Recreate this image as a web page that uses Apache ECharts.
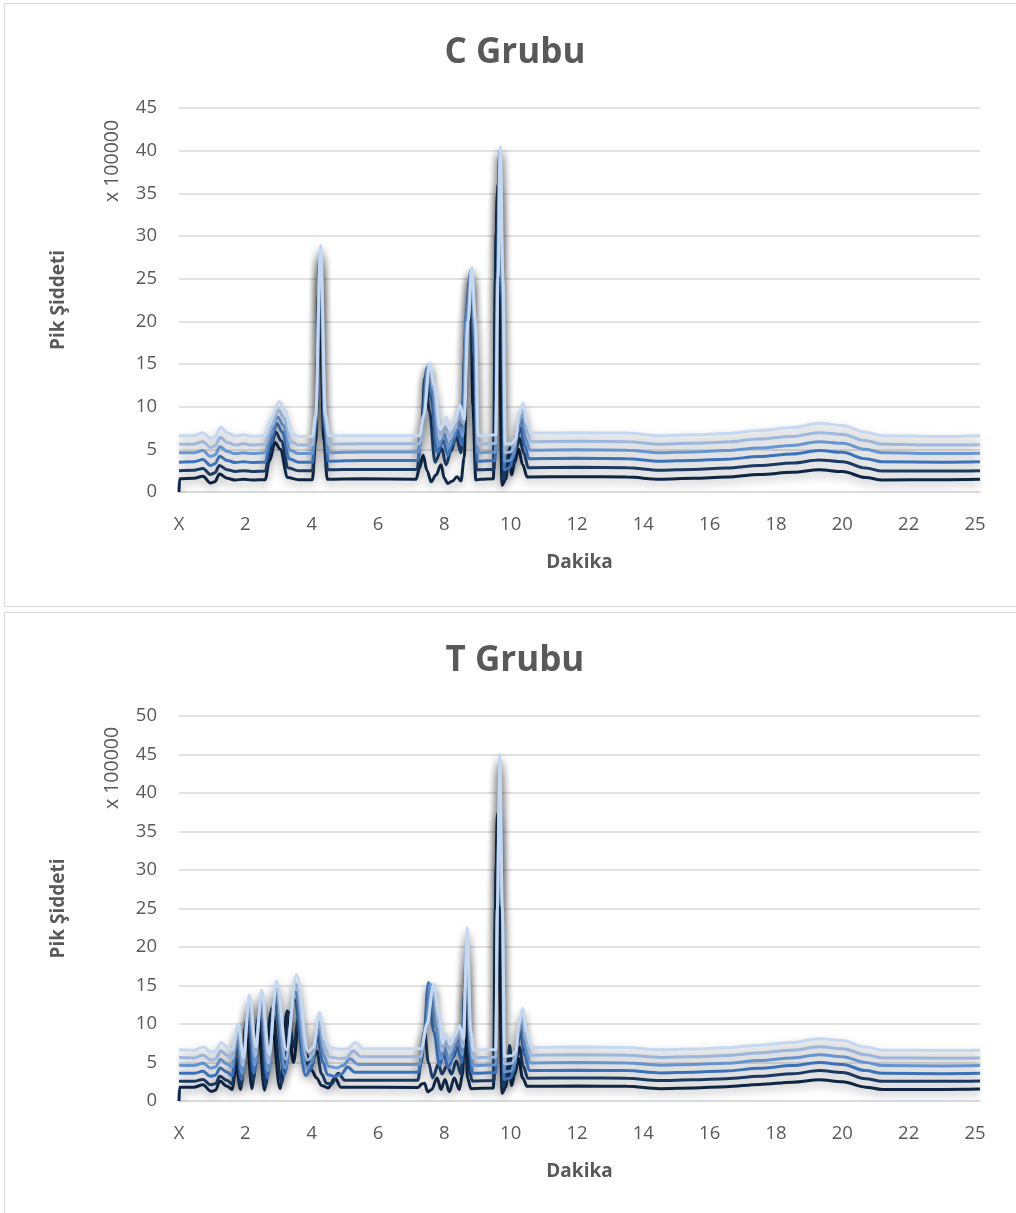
<!DOCTYPE html>
<html>
<head>
<meta charset="utf-8">
<script src="https://cdn.jsdelivr.net/npm/echarts@6/dist/echarts.min.js"></script>
<style>
html,body{margin:0;padding:0;background:#fff;}
#chart{width:1016px;height:1213px;}
</style>
</head>
<body>
<div id="chart"></div>
<script>
// ---- Data (retention time in minutes, intensity x 100000) ----
const xTickLabels = ['X','2','4','6','8','10','12','14','16','18','20','22','25'];
const titleC = 'C Grubu';
const titleT = 'T Grubu';
const xName = 'Dakika';
const yName = 'Pik Şiddeti';
const unitLabel = 'x 100000';
const yMaxC = 45;
const yMaxT = 50;
const xMax = 24.15;

const C1 = [[0,0],[0.02,1.55],[0.45,1.6],[0.72,1.85],[0.95,1.05],[1.08,1.2],[1.22,2.1],[1.45,1.6],[1.7,1.4],[1.95,1.5],[2.2,1.4],[2.6,1.45],[2.72,3.6],[2.9,5.8],[3.05,5],[3.28,1.7],[3.6,1.45],[4.02,1.45],[4.12,6],[4.23,26],[4.37,6],[4.47,1.5],[5.5,1.55],[7.15,1.5],[7.25,2.8],[7.36,4.3],[7.48,2.5],[7.6,1.2],[7.75,2.0],[7.9,3.2],[8.0,1.6],[8.1,1.0],[8.25,1.3],[8.38,1.8],[8.5,1.3],[8.6,4],[8.7,22],[8.8,24],[8.86,10],[8.95,1.4],[9.1,1.5],[9.48,1.55],[9.54,25],[9.6,35],[9.66,18],[9.74,0.8],[9.85,1.5],[9.95,4.8],[10.03,2],[10.12,3.5],[10.24,5],[10.36,3.2],[10.5,1.75],[12,1.8],[13.5,1.75],[14.5,1.5],[15.5,1.6],[16.5,1.75],[17.5,2.05],[18.5,2.3],[19.3,2.6],[20,2.4],[20.7,1.7],[21.2,1.4],[23,1.45],[24.15,1.5]];
const C2 = [[0,2.5],[0.45,2.55],[0.72,2.75],[0.95,2.05],[1.08,2.25],[1.22,3.1],[1.45,2.6],[1.7,2.4],[1.95,2.5],[2.2,2.4],[2.6,2.45],[2.73,4.6],[2.92,7],[3.08,6],[3.3,2.8],[3.6,2.5],[4.02,2.5],[4.12,7],[4.24,27],[4.38,7],[4.48,2.6],[5.5,2.65],[7.18,2.65],[7.3,7],[7.42,13.5],[7.55,9.5],[7.72,3.5],[7.92,5.1],[8.05,3.2],[8.2,4.8],[8.36,6.5],[8.5,4.6],[8.64,18],[8.77,25],[8.88,14],[8.97,2.6],[9.1,2.6],[9.5,2.65],[9.56,30],[9.62,36],[9.7,20],[9.78,1.5],[9.9,3],[9.98,5.2],[10.06,3],[10.15,5],[10.27,6.3],[10.4,4.5],[10.53,2.85],[12,2.9],[13.5,2.85],[14.5,2.55],[15.5,2.65],[16.5,2.8],[17.5,3.1],[18.5,3.4],[19.3,3.75],[20,3.55],[20.7,2.8],[21.2,2.45],[23,2.45],[24.15,2.5]];
const C3 = [[0,3.5],[0.45,3.55],[0.72,3.8],[0.95,3.1],[1.08,3.3],[1.23,4.2],[1.45,3.7],[1.7,3.45],[1.95,3.55],[2.2,3.45],[2.6,3.5],[2.75,5.6],[2.95,8],[3.12,7],[3.32,3.9],[3.6,3.5],[4.02,3.5],[4.12,7.5],[4.25,27.5],[4.39,7.5],[4.5,3.6],[5.5,3.7],[7.2,3.7],[7.32,7.5],[7.47,14.6],[7.6,11],[7.78,4.6],[7.97,6],[8.1,4.3],[8.25,5.6],[8.4,7.2],[8.52,5.5],[8.66,21],[8.78,25.5],[8.9,16],[8.99,3.6],[9.1,3.6],[9.53,3.7],[9.59,25],[9.66,39.5],[9.74,22],[9.81,2.6],[9.96,2.8],[10.07,4],[10.18,6.2],[10.3,7.5],[10.42,5.5],[10.55,3.9],[12,3.95],[13.5,3.9],[14.5,3.6],[15.5,3.7],[16.5,3.85],[17.5,4.15],[18.5,4.45],[19.3,4.85],[20,4.65],[20.7,3.9],[21.2,3.55],[23,3.5],[24.15,3.55]];
const C4 = [[0,4.6],[0.45,4.6],[0.72,4.85],[0.95,4.15],[1.08,4.35],[1.24,5.3],[1.45,4.75],[1.7,4.5],[1.95,4.6],[2.2,4.5],[2.6,4.6],[2.76,6.6],[2.97,8.8],[3.15,7.8],[3.34,4.9],[3.6,4.5],[4.02,4.5],[4.12,8],[4.25,28],[4.4,8],[4.5,4.6],[5.5,4.7],[7.22,4.7],[7.35,8],[7.5,14.8],[7.64,11.5],[7.82,5.4],[8.0,6.8],[8.12,5.2],[8.28,6.4],[8.43,8.2],[8.55,6.5],[8.67,21],[8.8,26],[8.92,18],[9.0,4.6],[9.1,4.6],[9.54,4.7],[9.6,25],[9.67,40],[9.75,23],[9.82,3.6],[9.98,3.7],[10.1,4.5],[10.2,7],[10.32,8.6],[10.45,6.2],[10.58,4.9],[12,4.95],[13.5,4.9],[14.5,4.6],[15.5,4.7],[16.5,4.85],[17.5,5.15],[18.5,5.45],[19.3,5.9],[20,5.7],[20.7,5.0],[21.2,4.6],[23,4.5],[24.15,4.55]];
const C5 = [[0,5.6],[0.45,5.6],[0.72,5.9],[0.95,5.2],[1.08,5.4],[1.25,6.4],[1.45,5.8],[1.7,5.5],[1.95,5.65],[2.2,5.5],[2.6,5.6],[2.78,7.6],[3.0,9.6],[3.18,8.6],[3.36,5.9],[3.6,5.5],[4.02,5.5],[4.12,8.5],[4.26,28.5],[4.41,8.5],[4.52,5.6],[5.5,5.65],[7.25,5.65],[7.38,8.5],[7.54,14.9],[7.68,12],[7.86,6.2],[8.03,7.6],[8.15,6.2],[8.3,7.2],[8.45,9.2],[8.58,8],[8.7,20],[8.82,26.2],[8.93,19],[9.01,5.6],[9.1,5.6],[9.55,5.7],[9.61,25],[9.68,40.2],[9.76,24],[9.83,4.6],[10.0,4.7],[10.12,5.4],[10.23,8],[10.35,9.6],[10.48,7.2],[10.6,5.9],[12,5.95],[13.5,5.9],[14.5,5.6],[15.5,5.7],[16.5,5.85],[17.5,6.2],[18.5,6.5],[19.3,6.95],[20,6.75],[20.7,6.0],[21.2,5.6],[23,5.5],[24.15,5.55]];
const C6 = [[0,6.6],[0.45,6.6],[0.72,6.95],[0.95,6.3],[1.08,6.45],[1.26,7.6],[1.45,6.95],[1.7,6.55],[1.95,6.7],[2.2,6.5],[2.6,6.6],[2.78,8.6],[3.02,10.6],[3.2,9.6],[3.38,6.9],[3.6,6.5],[4.02,6.5],[4.12,9],[4.27,28.9],[4.42,9],[4.52,6.6],[5.5,6.6],[7.25,6.6],[7.38,9],[7.56,15.1],[7.7,12.5],[7.88,7.3],[8.05,8.75],[8.17,7.3],[8.32,8.2],[8.47,10.2],[8.6,8.5],[8.72,20],[8.83,26.3],[8.94,20],[9.02,6.6],[9.1,6.6],[9.55,6.7],[9.62,25],[9.69,40.5],[9.77,25],[9.84,5.6],[10.05,5.7],[10.15,6.2],[10.25,9],[10.37,10.4],[10.5,8],[10.62,6.9],[12,6.95],[13.5,6.9],[14.5,6.6],[15.5,6.7],[16.5,6.85],[17.5,7.2],[18.5,7.55],[19.3,8.05],[20,7.8],[20.7,7.0],[21.2,6.6],[23,6.5],[24.15,6.6]];

const T1 = [[0,0],[0.02,1.8],[0.45,1.8],[0.72,2.1],[0.97,1.25],[1.1,1.4],[1.23,2.6],[1.45,1.9],[1.6,1.5],[1.72,4.5],[1.86,1.5],[2.02,10],[2.2,1.6],[2.38,10.5],[2.58,1.4],[2.77,11.5],[3.05,1.6],[3.26,11.7],[3.45,5],[3.62,10.6],[3.85,6],[4.0,4],[4.15,3],[4.3,2],[4.5,1.7],[4.7,3.0],[4.88,1.8],[7.2,1.75],[7.32,2.2],[7.4,2.3],[7.5,1.2],[7.62,1.5],[7.78,3],[7.9,1.5],[8.02,2.8],[8.15,1.2],[8.3,3],[8.45,1.5],[8.55,3.5],[8.62,14],[8.7,3],[8.8,1.6],[9.48,1.7],[9.54,25],[9.6,37],[9.66,18],[9.74,1.0],[9.85,1.8],[9.95,5.5],[10.03,2],[10.12,3.5],[10.24,5.5],[10.36,3],[10.5,1.9],[12,1.95],[13.5,1.9],[14.5,1.6],[15.5,1.7],[16.5,1.85],[17.5,2.15],[18.5,2.45],[19.3,2.75],[20,2.5],[20.7,1.8],[21.2,1.5],[23,1.5],[24.15,1.55]];
const T2 = [[0,2.55],[0.45,2.55],[0.72,2.8],[0.95,2.1],[1.1,2.25],[1.23,3.2],[1.45,2.65],[1.6,2.2],[1.72,5.5],[1.87,2],[2.04,10.5],[2.24,2.6],[2.41,11],[2.62,2],[2.8,12],[3.1,2.3],[3.3,11.6],[3.45,7],[3.62,11],[3.95,4],[4.15,6.5],[4.3,3.5],[4.45,2.3],[4.6,2.2],[4.8,3.6],[5.0,2.7],[7.2,2.7],[7.3,5],[7.4,9.1],[7.52,5],[7.65,3],[7.82,4.8],[7.93,3.5],[8.08,4.6],[8.22,3.5],[8.36,5.2],[8.5,3.5],[8.64,16],[8.75,4],[8.84,2.6],[9.5,2.65],[9.56,30],[9.62,37.5],[9.7,20],[9.77,1.8],[9.9,3.5],[9.97,7.2],[10.05,3.2],[10.15,5],[10.26,7],[10.38,4.5],[10.52,2.95],[12,3.0],[13.5,2.95],[14.5,2.65],[15.5,2.75],[16.5,2.9],[17.5,3.2],[18.5,3.55],[19.3,3.95],[20,3.7],[20.7,2.9],[21.2,2.55],[23,2.55],[24.15,2.6]];
const T3 = [[0,3.6],[0.45,3.6],[0.72,3.85],[0.95,3.2],[1.1,3.35],[1.24,4.3],[1.45,3.75],[1.6,3.3],[1.73,6.8],[1.89,2.8],[2.06,11.2],[2.26,3.6],[2.43,12],[2.66,3],[2.88,13],[3.18,3.4],[3.47,13.2],[3.82,3.3],[3.98,4.2],[4.17,8.3],[4.34,5],[4.48,3.4],[4.7,3.2],[4.9,3.5],[5.08,4.4],[5.3,3.75],[7.22,3.75],[7.38,8.5],[7.52,15.4],[7.68,9],[7.86,4.6],[7.97,6.2],[8.12,4.3],[8.26,5.6],[8.4,7],[8.52,5],[8.66,18],[8.77,6],[8.85,3.6],[9.55,3.7],[9.6,25],[9.66,43],[9.74,25],[9.8,2.8],[9.99,3],[10.1,4],[10.19,7],[10.3,9],[10.42,6],[10.56,3.95],[12,4.0],[13.5,3.95],[14.5,3.65],[15.5,3.75],[16.5,3.9],[17.5,4.25],[18.5,4.6],[19.3,5.0],[20,4.75],[20.7,3.95],[21.2,3.6],[23,3.55],[24.15,3.6]];
const T4 = [[0,4.65],[0.45,4.6],[0.73,4.9],[0.96,4.25],[1.1,4.4],[1.25,5.4],[1.45,4.8],[1.6,4.4],[1.75,7.8],[1.91,3.6],[2.08,12],[2.28,4.6],[2.45,12.8],[2.68,3.9],[2.9,13.8],[3.2,4.3],[3.5,14.2],[3.85,4.2],[4.0,5],[4.19,9.3],[4.36,6],[4.5,4.5],[4.75,4.3],[4.95,4.6],[5.15,5.5],[5.4,4.75],[7.25,4.75],[7.42,9],[7.58,15.2],[7.75,9.5],[7.9,5.5],[8.0,7],[8.14,5.2],[8.28,6.6],[8.42,8],[8.54,6],[8.67,20],[8.78,7],[8.86,4.6],[9.55,4.7],[9.6,25],[9.66,44],[9.74,25],[9.81,3.8],[10.01,3.9],[10.12,4.8],[10.21,8],[10.32,10],[10.44,7],[10.58,4.95],[12,5.0],[13.5,4.95],[14.5,4.65],[15.5,4.75],[16.5,4.9],[17.5,5.25],[18.5,5.6],[19.3,6.0],[20,5.75],[20.7,5.0],[21.2,4.6],[23,4.55],[24.15,4.6]];
const T5 = [[0,5.65],[0.45,5.6],[0.73,5.95],[0.96,5.3],[1.1,5.45],[1.26,6.5],[1.45,5.9],[1.6,5.5],[1.77,8.8],[1.93,4.6],[2.1,12.8],[2.3,5.8],[2.47,13.5],[2.7,4.9],[2.92,14.6],[3.22,5.4],[3.52,15.2],[3.88,5.3],[4.03,6],[4.21,10.3],[4.38,7],[4.53,5.7],[4.85,5.5],[5.05,5.6],[5.25,6.5],[5.48,5.75],[7.28,5.75],[7.46,9.5],[7.65,14.8],[7.82,10.2],[7.93,6.5],[8.03,7.8],[8.16,6.3],[8.3,7.6],[8.44,8.9],[8.56,7],[8.68,21.5],[8.79,8],[8.87,5.6],[9.55,5.7],[9.6,25],[9.67,44.5],[9.75,25],[9.82,4.8],[10.03,4.9],[10.14,5.6],[10.23,9],[10.34,11],[10.46,8],[10.6,5.95],[12,6.0],[13.5,5.95],[14.5,5.65],[15.5,5.75],[16.5,5.9],[17.5,6.25],[18.5,6.6],[19.3,7.05],[20,6.8],[20.7,6.0],[21.2,5.6],[23,5.55],[24.15,5.6]];
const T6 = [[0,6.65],[0.45,6.6],[0.74,7.0],[0.97,6.35],[1.1,6.5],[1.27,7.6],[1.45,7.0],[1.6,6.6],[1.79,9.9],[1.95,5.6],[2.12,13.8],[2.32,7.0],[2.49,14.4],[2.72,6.0],[2.94,15.6],[3.24,6.6],[3.54,16.4],[3.9,6.4],[4.05,7],[4.23,11.5],[4.4,8],[4.55,6.9],[4.9,6.7],[5.1,6.8],[5.32,7.6],[5.55,6.8],[7.3,6.8],[7.48,10],[7.68,15.2],[7.85,11],[7.95,7.5],[8.05,8.7],[8.18,7.3],[8.32,8.5],[8.46,9.8],[8.58,8],[8.69,22.5],[8.8,9],[8.88,6.6],[9.55,6.7],[9.6,25],[9.67,45],[9.75,25],[9.82,5.8],[10.05,5.9],[10.16,6.5],[10.25,10],[10.36,12],[10.48,9],[10.62,6.95],[12,7.0],[13.5,6.95],[14.5,6.65],[15.5,6.75],[16.5,6.9],[17.5,7.25],[18.5,7.6],[19.3,8.1],[20,7.85],[20.7,7.0],[21.2,6.6],[23,6.55],[24.15,6.6]];

const seriesC = [C1, C2, C3, C4, C5, C6];
const seriesT = [T1, T2, T3, T4, T5, T6];

// ---- Styles ----
const palette = ['#0f2848', '#1c3d68', '#3f79c6', '#6c9edf', '#a6c3eb', '#c5d8f1'];
const FONT = "'Open Sans', 'Noto Sans', sans-serif";
const TXT = '#595959';
const GRIDC = '#d9d9d9';

function xLabel(v) {
  const i = v / 2;
  if (Math.abs(i - Math.round(i)) > 1e-6) return '';
  return xTickLabels[Math.round(i)] || '';
}

const grids = [
  { left: 179, right: 36, top: 108, height: 384 },
  { left: 179, right: 36, top: 716, height: 385 }
];

function makeX(gi) {
  return {
    type: 'value', gridIndex: gi, min: 0, max: xMax, interval: 2,
    name: xName, nameLocation: 'middle', nameGap: 61,
    nameTextStyle: { fontFamily: FONT, fontWeight: 'bold', fontSize: 19, color: TXT },
    axisLine: { show: true, lineStyle: { color: GRIDC, width: 1.5 } },
    axisTick: { show: false },
    splitLine: { show: false },
    axisLabel: { formatter: xLabel, fontFamily: FONT, fontSize: 18.5, color: TXT, margin: 23, showMaxLabel: false }
  };
}
function makeY(gi, maxV) {
  return {
    type: 'value', gridIndex: gi, min: 0, max: maxV, interval: 5,
    name: yName, nameLocation: 'middle', nameGap: 111, nameRotate: 90,
    nameTextStyle: { fontFamily: FONT, fontWeight: 'bold', fontSize: 19, color: TXT },
    axisLine: { show: false }, axisTick: { show: false },
    splitLine: { show: true, lineStyle: { color: GRIDC, width: 1.5 } },
    axisLabel: { fontFamily: FONT, fontSize: 18.5, color: TXT, margin: 22 }
  };
}

function makeSeries(list, gi) {
  return list.map((d, k) => ({
    type: 'line', xAxisIndex: gi, yAxisIndex: gi, data: d,
    showSymbol: false, symbol: 'none', smooth: 0.35, smoothMonotone: 'x',
    z: 2 + k,
    lineStyle: {
      color: palette[k], width: 3,
      shadowColor: 'rgba(0,0,0,0.32)', shadowBlur: 8, shadowOffsetY: 4
    },
    emphasis: { disabled: true }
  }));
}

const chart = echarts.init(document.getElementById('chart'), null, { renderer: 'canvas' });
chart.setOption({
  animation: false,
  backgroundColor: '#ffffff',
  title: [
    { text: titleC, left: 515, textAlign: 'center', top: 36, padding: 0, textStyle: { fontFamily: FONT, fontWeight: 'bold', fontSize: 35, color: TXT } },
    { text: titleT, left: 515, textAlign: 'center', top: 644, padding: 0, textStyle: { fontFamily: FONT, fontWeight: 'bold', fontSize: 35, color: TXT } }
  ],
  grid: grids,
  xAxis: [makeX(0), makeX(1)],
  yAxis: [makeY(0, yMaxC), makeY(1, yMaxT)],
  graphic: [
    { type: 'rect', shape: { x: 4.5, y: 3.5, width: 1030, height: 603 }, style: { fill: 'none', stroke: '#d9d9d9', lineWidth: 1 }, silent: true, z: -1 },
    { type: 'rect', shape: { x: 4.5, y: 612.5, width: 1030, height: 620 }, style: { fill: 'none', stroke: '#d9d9d9', lineWidth: 1 }, silent: true, z: -1 },
    { type: 'text', x: 112, y: 161, rotation: Math.PI / 2, style: { text: unitLabel, font: "19.5px 'Open Sans', sans-serif", fill: TXT, align: 'center', verticalAlign: 'middle' }, silent: true },
    { type: 'text', x: 112, y: 768, rotation: Math.PI / 2, style: { text: unitLabel, font: "19.5px 'Open Sans', sans-serif", fill: TXT, align: 'center', verticalAlign: 'middle' }, silent: true }
  ],
  series: makeSeries(seriesC, 0).concat(makeSeries(seriesT, 1))
});
</script>
</body>
</html>
